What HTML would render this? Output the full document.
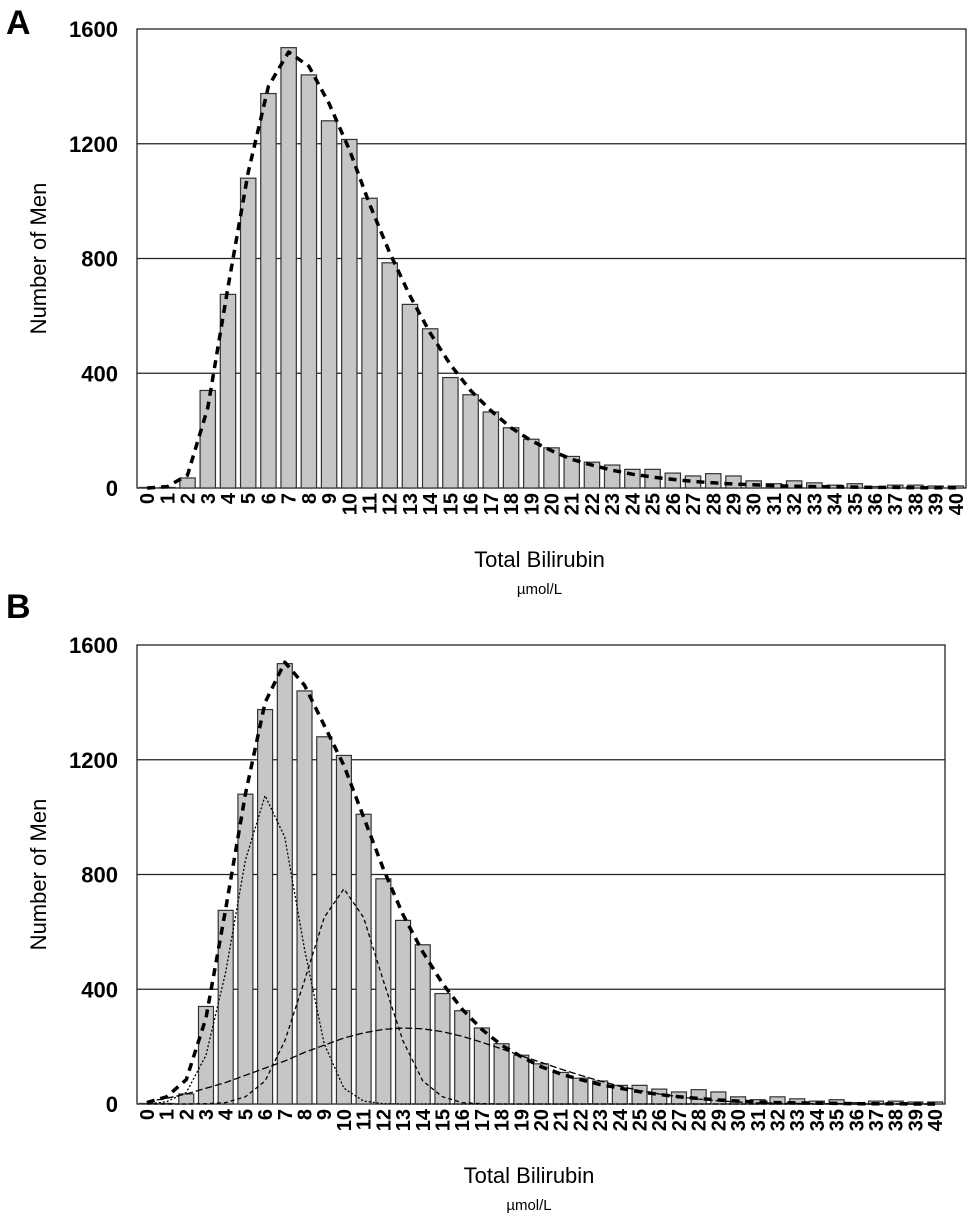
<!DOCTYPE html>
<html><head><meta charset="utf-8"><style>
html,body{margin:0;padding:0;background:#fff;}
svg{display:block;font-family:"Liberation Sans",Arial,sans-serif;}
</style></head><body>
<svg id="s" width="972" height="1219" viewBox="0 0 972 1219">
<text x="6" y="34" font-size="34" font-weight="bold">A</text>
<text x="6" y="618" font-size="34" font-weight="bold">B</text>
</svg>
<script>
const categories = [0,1,2,3,4,5,6,7,8,9,10,11,12,13,14,15,16,17,18,19,20,21,22,23,24,25,26,27,28,29,30,31,32,33,34,35,36,37,38,39,40];
const counts = [2,2,35,340,675,1080,1375,1535,1440,1280,1215,1010,785,640,555,385,325,265,210,170,140,110,90,80,65,65,52,42,50,42,25,15,25,18,10,15,5,10,10,7,7];
const fitA = [0,5,45,280,700,1100,1400,1520,1470,1340,1180,990,820,670,540,430,340,270,210,165,130,100,80,62,48,38,30,23,18,14,11,8,6,5,4,3,2,2,1,1,1];
const comp1 = [0,8,40,170,460,850,1075,930,540,210,55,10,1,0,0,0,0,0,0,0,0,0,0,0,0,0,0,0,0,0,0,0,0,0,0,0,0,0,0,0,0];
const comp2 = [0,0,0,1,5,25,80,220,430,650,750,650,430,220,80,25,5,1,0,0,0,0,0,0,0,0,0,0,0,0,0,0,0,0,0,0,0,0,0,0,0];
const comp3 = [8,20,35,55,75,100,125,150,180,205,230,248,260,265,262,252,236,215,192,168,145,122,100,80,62,47,35,25,17,11,7,4,3,2,1,1,0,0,0,0,0];
const fitB = [5,25,85,300,680,1080,1400,1540,1460,1320,1180,1000,820,660,530,420,330,260,205,165,130,105,85,68,55,43,33,25,19,14,10,7,5,4,3,2,1,1,1,0,0];
const yTicks = [0,400,800,1200,1600];
const NS='http://www.w3.org/2000/svg';
const svg=document.getElementById('s');
function el(t,a,p){const e=document.createElementNS(NS,t);for(const k in a)e.setAttribute(k,a[k]);(p||svg).appendChild(e);return e;}
function panel(id,L,R,T,B,lines){
  const g=el('g',{});
  
  
  const y=v=>B-(v/1600)*(B-T);
  const w=(R-L)/categories.length;
  const x=i=>L+(i+0.5)*w;
  const fr=el('rect',{x:L,y:T,width:R-L,height:B-T,fill:'none',stroke:'#222','stroke-width':1.3},g);
  
  
  yTicks.forEach(v=>{
    if(v>0&&v<1600){const gl=el('line',{x1:L,x2:R,y1:y(v),y2:y(v),stroke:'#222','stroke-width':1.2},g);
    
    }
    const t=el('text',{x:L-19,y:y(v)+8,'font-size':22,'font-weight':'bold','text-anchor':'end'},g);
    t.textContent=v;
    
    
  });
  categories.forEach((c,i)=>{
    const bw=w*0.76;
    const b=el('rect',{x:x(i)-bw/2,y:y(counts[i]),width:bw,height:B-y(counts[i]),fill:'#c6c6c6',stroke:'#333','stroke-width':1.2},g);
    
    
    const t=el('text',{transform:`translate(${x(i)+7},${B+5}) rotate(-90)`,'font-size':20,'font-weight':'bold','text-anchor':'end'},g);
    t.textContent=c;
    
    
  });
  lines.forEach(ln=>{
    const d=ln.data.map((v,i)=>(i?'L':'M')+x(i).toFixed(1)+','+y(v).toFixed(1)).join(' ');
    const p=el('path',{d:d,fill:'none',stroke:'#000','stroke-width':ln.sw,'stroke-dasharray':ln.dash,'stroke-linejoin':'round'},g);
    
    
  });
  const yt=el('text',{transform:`translate(46,${(T+B)/2}) rotate(-90)`,'font-size':22,'text-anchor':'middle'},g);
  yt.textContent='Number of Men';
  
  
  const xt=el('text',{x:(L+R)/2-12,y:B+79,'font-size':22,'text-anchor':'middle'},g);
  xt.textContent='Total Bilirubin';
  
  
  const u=el('text',{x:(L+R)/2-12,y:B+106,'font-size':15,'text-anchor':'middle'},g);
  u.textContent='µmol/L';
  
  
}
panel('panel-a',137,966,29,488,[{data:fitA,sw:3.5,dash:'8 6',name:'fit-curve'}]);
panel('panel-b',137,945,645,1104,[
  {data:comp1,sw:1.3,dash:'2 2',name:'component-1'},
  {data:comp2,sw:1.3,dash:'4 3',name:'component-2'},
  {data:comp3,sw:1.3,dash:'7 3',name:'component-3'},
  {data:fitB,sw:3.5,dash:'8 6',name:'total-fit-curve'}]);
</script>
</body></html>
